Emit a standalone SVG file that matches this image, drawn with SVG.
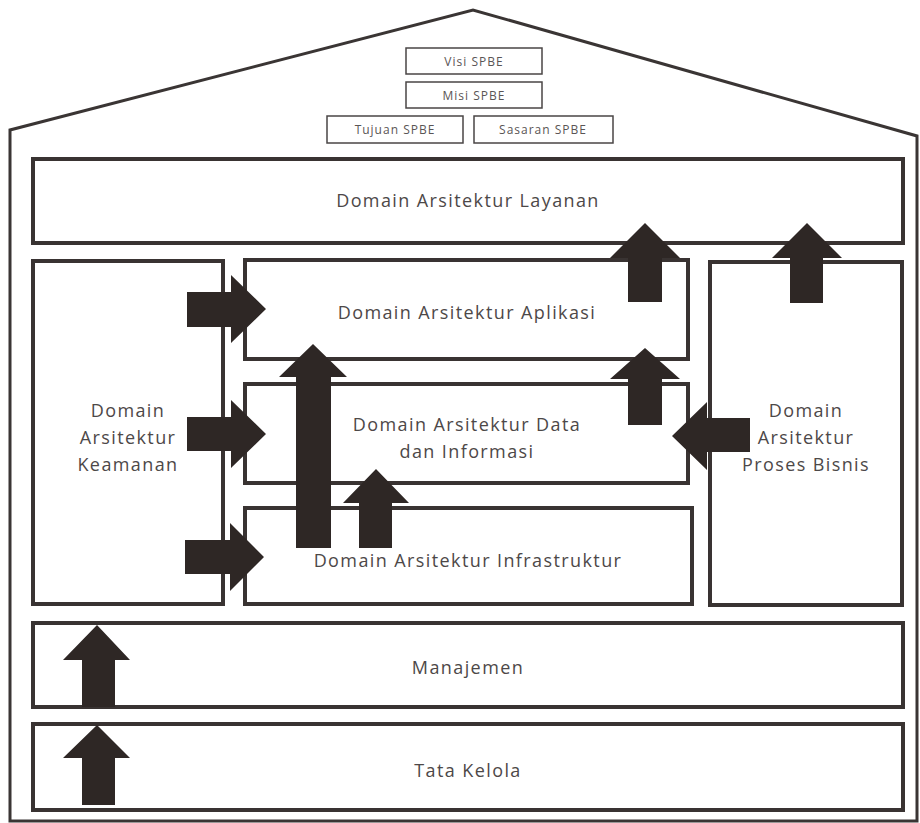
<svg xmlns="http://www.w3.org/2000/svg" width="920" height="823" viewBox="0 0 920 823">
<style>
.house{fill:none;stroke:#3a3534;stroke-width:3;stroke-linejoin:miter}
.box{fill:#fff;stroke:#393332;stroke-width:4}
.small{fill:#fff;stroke:#4a4545;stroke-width:1.5}
.t{font-family:"Open Sans","Liberation Sans",sans-serif;font-size:18px;letter-spacing:1.4px;fill:#4d4848;text-anchor:middle}
.ts{font-family:"Open Sans","Liberation Sans",sans-serif;font-size:12px;letter-spacing:1px;fill:#5a5555;text-anchor:middle}
.arr{fill:#2e2725}
</style>
<rect width="920" height="823" fill="#fff"/>
<g id="house"><path class="house" d="M10,821 L10,130 L473,10 L917,136 L917,821 Z"/></g>
<g id="visi"><rect class="small" x="406" y="48" width="136" height="26"/><text class="ts" x="474" y="66">Visi SPBE</text></g>
<g id="misi"><rect class="small" x="406" y="82" width="136" height="26"/><text class="ts" x="474" y="100">Misi SPBE</text></g>
<g id="tujuan"><rect class="small" x="327" y="116" width="136" height="27"/><text class="ts" x="395" y="134">Tujuan SPBE</text></g>
<g id="sasaran"><rect class="small" x="474" y="116" width="139" height="27"/><text class="ts" x="543" y="134">Sasaran SPBE</text></g>
<g id="layanan"><rect class="box" x="33" y="159" width="870" height="84"/><text class="t" x="468" y="207">Domain Arsitektur Layanan</text></g>
<g id="keamanan"><rect class="box" x="33" y="261" width="190" height="343"/><text class="t" x="128" y="417">Domain</text><text class="t" x="128" y="444">Arsitektur</text><text class="t" x="128" y="471">Keamanan</text></g>
<g id="aplikasi"><rect class="box" x="245" y="260" width="443" height="99"/><text class="t" x="467" y="319">Domain Arsitektur Aplikasi</text></g>
<g id="data"><rect class="box" x="245" y="384" width="443" height="99"/><text class="t" x="467" y="431">Domain Arsitektur Data</text><text class="t" x="467" y="458">dan Informasi</text></g>
<g id="infrastruktur"><rect class="box" x="245" y="508" width="447" height="96"/><text class="t" x="468" y="567">Domain Arsitektur Infrastruktur</text></g>
<g id="proses"><rect class="box" x="710" y="262" width="192" height="343"/><text class="t" x="806" y="417">Domain</text><text class="t" x="806" y="444">Arsitektur</text><text class="t" x="806" y="471">Proses Bisnis</text></g>
<g id="manajemen"><rect class="box" x="33" y="623" width="870" height="84"/><text class="t" x="468" y="674">Manajemen</text></g>
<g id="tatakelola"><rect class="box" x="33" y="724" width="870" height="86"/><text class="t" x="468" y="777">Tata Kelola</text></g>
<g id="connectors">
<path class="arr" d="M187,292 H231 V275 L266,309 L231,343 V327 H187 Z"/>
<path class="arr" d="M187,417 H231 V400 L266,434 L231,468 V451 H187 Z"/>
<path class="arr" d="M185,540 H230 V523 L264,557 L230,591 V574 H185 Z"/>
<path class="arr" d="M296,548 V377 H279 L313,344 L347,377 H331 V548 Z"/>
<path class="arr" d="M359,548 V503 H343 L376,469 L409,503 H392 V548 Z"/>
<path class="arr" d="M628,302 V258 H610 L645,223 L680,258 H662 V302 Z"/>
<path class="arr" d="M790,303 V258 H772 L807,223 L842,258 H823 V303 Z"/>
<path class="arr" d="M628,425 V379 H610 L645,348 L680,379 H662 V425 Z"/>
<path class="arr" d="M750,418 H707 V402 L672,436 L707,470 V452 H750 Z"/>
<path class="arr" d="M82,707 V660 H63 L97,625 L130,660 H115 V707 Z"/>
<path class="arr" d="M82,805 V758 H63 L97,725 L130,758 H115 V805 Z"/>
</g>
</svg>
